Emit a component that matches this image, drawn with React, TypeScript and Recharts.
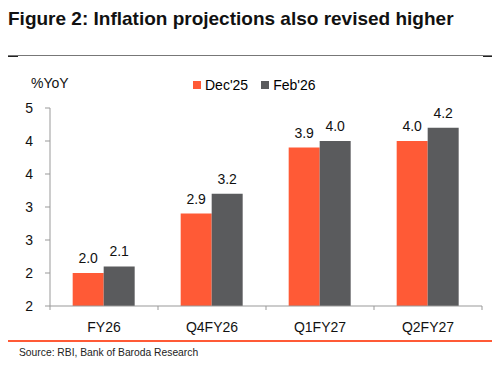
import React from "react";
import { BarChart, Bar, XAxis, YAxis, LabelList } from "recharts";

const categories = ["FY26", "Q4FY26", "Q1FY27", "Q2FY27"];
const dec25 = [2.0, 2.9, 3.9, 4.0];
const feb26 = [2.1, 3.2, 4.0, 4.2];
const yTicks = [1.5, 2.0, 2.5, 3.0, 3.5, 4.0, 4.5];
const seriesNames = ["Dec'25", "Feb'26"];

const ORANGE = "#FF5A36";
const GRAY = "#5A5B5D";
const AXIS = "#999";
const FONT = "'Liberation Sans', Arial, sans-serif";

const data = categories.map((c, i) => ({ name: c, dec: dec25[i], feb: feb26[i] }));

const CatTick = (props: any) => {
  const { x, y, payload, index, visibleTicksCount } = props;
  const half = payload.offset || 0;
  const last = index === visibleTicksCount - 1;
  return (
    <g>
      <line x1={x - half} x2={x - half} y1={y} y2={y + 4} stroke={AXIS} />
      {last && <line x1={x + half} x2={x + half} y1={y} y2={y + 4} stroke={AXIS} />}
      <text x={x} y={y + 26} textAnchor="middle" fontSize={14} fill="#111" fontFamily={FONT}>
        {payload.value}
      </text>
    </g>
  );
};

export default function App() {
  const colors = [ORANGE, GRAY];
  return (
    <div style={{ position: "absolute", left: 0, top: 0, width: 502, height: 376, background: "#fff", fontFamily: FONT }}>
      <div style={{ position: "absolute", left: 8, top: 8, fontSize: 19, fontWeight: "bold", color: "#111", whiteSpace: "nowrap" }}>
        Figure 2: Inflation projections also revised higher
      </div>
      <div style={{ position: "absolute", left: 8, top: 55, width: 484, height: 1, background: "#777" }} />
      <div style={{ position: "absolute", left: 8, top: 56, width: 10, height: 1, background: "#222" }} />
      <div style={{ position: "absolute", left: 483, top: 56, width: 9, height: 1, background: "#222" }} />
      <div style={{ position: "absolute", left: 31, top: 75, fontSize: 14, color: "#111" }}>%YoY</div>
      <div style={{ position: "absolute", left: 193, top: 77, display: "flex", alignItems: "center", fontSize: 14, color: "#000" }}>
        {seriesNames.map((n, i) => (
          <div key={n} style={{ display: "flex", alignItems: "center", marginRight: 13 }}>
            <div style={{ width: 8, height: 8, background: colors[i], marginRight: 4 }} />
            <span>{n}</span>
          </div>
        ))}
      </div>
      <div style={{ position: "absolute", left: 0, top: 0 }}>
        <BarChart width={502} height={376} data={data} margin={{ top: 108, right: 20, bottom: 69, left: 10 }} barCategoryGap="21%" barGap={0}>
          <XAxis dataKey="name" height={1} axisLine={{ stroke: AXIS }} tickLine={false} tickSize={0} tickMargin={0}
            tick={<CatTick />} interval={0} />
          <YAxis domain={[1.5, 4.5]} ticks={yTicks} width={40} interval={0}
            tickFormatter={(v: number) => String(Math.floor(v + 0.5))}
            axisLine={{ stroke: AXIS }} tickLine={{ stroke: AXIS }} tickSize={5} tickMargin={12}
            tick={{ fontSize: 14, fill: "#111", fontFamily: FONT }} allowDataOverflow />
          <Bar dataKey="dec" name={seriesNames[0]} fill={ORANGE} isAnimationActive={false}>
            <LabelList dataKey="dec" position="top" offset={10} formatter={(v: number) => v.toFixed(1)}
              style={{ fontSize: 14, fill: "#111", fontFamily: FONT }} />
          </Bar>
          <Bar dataKey="feb" name={seriesNames[1]} fill={GRAY} isAnimationActive={false}>
            <LabelList dataKey="feb" position="top" offset={10} formatter={(v: number) => v.toFixed(1)}
              style={{ fontSize: 14, fill: "#111", fontFamily: FONT }} />
          </Bar>
        </BarChart>
      </div>
      <div style={{ position: "absolute", left: 8, top: 340, width: 484, height: 2, background: ORANGE }} />
      <div style={{ position: "absolute", left: 19, top: 347, fontSize: 10.3, color: "#222", whiteSpace: "nowrap" }}>
        Source: RBI, Bank of Baroda Research
      </div>
    </div>
  );
}
